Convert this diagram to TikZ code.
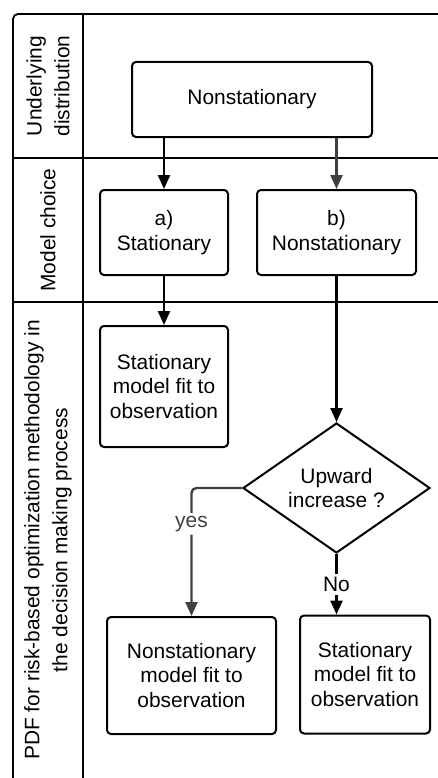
\documentclass[tikz,border=0pt]{standalone}
\usepackage{fontspec}
\setmainfont{Liberation Sans}
\usetikzlibrary{arrows.meta,shapes.geometric}

\tikzset{
  stepbox/.style={draw,line width=2bp,rounded corners=4bp,align=center,inner sep=0pt},
  lane/.style={line width=1.8bp},
  flow/.style={line width=2.4bp,-{Triangle[length=14bp,width=12bp]}},
  lanetitle/.style={rotate=90,align=center,font=\fontsize{21}{28}\selectfont}
}

\begin{document}
\begin{tikzpicture}[x=1bp,y=-1bp,font=\fontsize{21}{25}\selectfont]
\useasboundingbox (0,0) rectangle (438,778);
% swimlane frame
\draw[lane,rounded corners=5bp] (438,14)--(13,14)--(13,778);
\draw[lane] (83,14)--(83,778) (13,158)--(438,158) (13,302)--(438,302);
\node[lanetitle] (l1) at (48,86) {Underlying\\distribution};
\node[lanetitle] (l2) at (48,230) {Model choice};
\node[lanetitle] (l3) at (48,540) {PDF for risk-based optimization methodology in\\the decision making process};
% boxes
\node[stepbox,minimum width=240bp,minimum height=75bp] (dist) at (252,99.5) {Nonstationary};
\node[stepbox,minimum width=128bp,minimum height=85bp] (sta) at (164,232.5) {a)\\Stationary};
\node[stepbox,minimum width=159bp,minimum height=85bp] (nsta) at (336.5,232.5) {b)\\Nonstationary};
\node[stepbox,minimum width=128bp,minimum height=121bp] (stafit) at (164,386.5) {Stationary\\model fit to\\observation};
\node[draw,line width=2bp,shape=diamond,aspect=1.44,minimum width=187bp,minimum height=130bp,inner sep=0pt,align=center] (up) at (336.5,488) {Upward\\increase ?};
\node[stepbox,minimum width=169bp,minimum height=117bp] (nstafit) at (191.5,675.5) {Nonstationary\\model fit to\\observation};
\node[stepbox,minimum width=130bp,minimum height=118bp] (stafit2) at (365,674.5) {Stationary\\model fit to\\observation};
% connectors
\draw[flow] (sta.north |- dist.south) -- (sta.north);
\draw[flow,black!75] (nsta.north |- dist.south) -- (nsta.north);
\draw[flow] (sta) -- (stafit);
\draw[flow] (nsta) -- (up);
\draw[flow,black!75,rounded corners=5bp] (up.west) -| node[pos=.64,fill=white,text=black!75,inner sep=3bp] (yes) {yes} (nstafit.north);
\draw[flow] (up.south) -- node[fill=white,inner sep=3bp] (no) {No} (up.south |- stafit2.north);
\end{tikzpicture}
\end{document}
